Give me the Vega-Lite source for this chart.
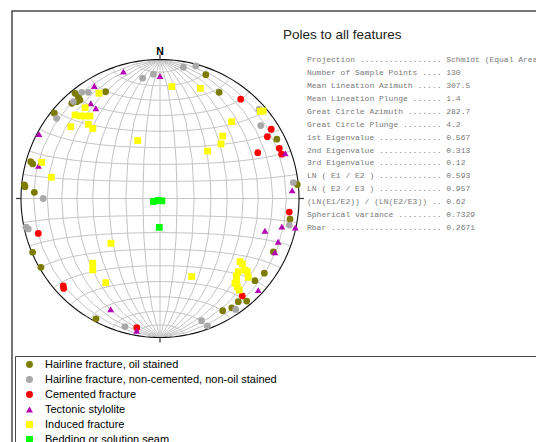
{
  "$schema": "https://vega.github.io/schema/vega-lite/v6.json",
  "width": 554,
  "height": 461,
  "autosize": {"type": "none"},
  "padding": {"left": 12, "top": 11, "right": -30, "bottom": -30},
  "background": "white",
  "view": {"stroke": "#4a4a4a", "strokeWidth": 1.5, "fill": "white"},
  "title": {
    "text": "Poles to all features",
    "subtitle": [
      "\u200b\u00a0\u00a0\u00a0\u00a0\u00a0Projection ................. Schmidt (Equal Area)",
      "\u200b\u00a0\u00a0\u00a0\u00a0\u00a0Number of Sample Points .... 130",
      "\u200b\u00a0\u00a0\u00a0\u00a0\u00a0Mean Lineation Azimuth ..... 307.5",
      "\u200b\u00a0\u00a0\u00a0\u00a0\u00a0Mean Lineation Plunge ...... 1.4",
      "\u200b\u00a0\u00a0\u00a0\u00a0\u00a0Great Circle Azimuth ....... 282.7",
      "\u200b\u00a0\u00a0\u00a0\u00a0\u00a0Great Circle Plunge ........ 4.2",
      "\u200b\u00a0\u00a0\u00a0\u00a0\u00a01st Eigenvalue ............. 0.567",
      "\u200b\u00a0\u00a0\u00a0\u00a0\u00a02nd Eigenvalue ............. 0.313",
      "\u200b\u00a0\u00a0\u00a0\u00a0\u00a03rd Eigenvalue ............. 0.12",
      "\u200b\u00a0\u00a0\u00a0\u00a0\u00a0LN ( E1 / E2 ) ............. 0.593",
      "\u200b\u00a0\u00a0\u00a0\u00a0\u00a0LN ( E2 / E3 ) ............. 0.957",
      "\u200b\u00a0\u00a0\u00a0\u00a0\u00a0(LN(E1/E2)) / (LN(E2/E3)) .. 0.62",
      "\u200b\u00a0\u00a0\u00a0\u00a0\u00a0Spherical variance ......... 0.7329",
      "\u200b\u00a0\u00a0\u00a0\u00a0\u00a0Rbar ....................... 0.2671"
    ],
    "anchor": "start",
    "frame": "group",
    "orient": "top",
    "offset": -221,
    "dx": 271,
    "font": "Liberation Sans",
    "fontSize": 13.5,
    "fontWeight": "normal",
    "color": "#222222",
    "subtitleFont": "Liberation Mono",
    "subtitleFontSize": 8,
    "subtitleColor": "#7a7a7a",
    "subtitleLineHeight": 12.9,
    "subtitlePadding": 14.5
  },
  "datasets": {
    "poles": [
      {"feature": "Hairline fracture, oil stained", "trend": 321.1, "plunge": 3.1},
      {"feature": "Hairline fracture, oil stained", "trend": 321.3, "plunge": 6.8},
      {"feature": "Hairline fracture, oil stained", "trend": 320.9, "plunge": 9.6},
      {"feature": "Hairline fracture, oil stained", "trend": 319.3, "plunge": 9.0},
      {"feature": "Hairline fracture, oil stained", "trend": 333.0, "plunge": 14.9},
      {"feature": "Hairline fracture, oil stained", "trend": 317.2, "plunge": 7.4},
      {"feature": "Hairline fracture, oil stained", "trend": 308.9, "plunge": 2.6},
      {"feature": "Hairline fracture, oil stained", "trend": 285.9, "plunge": 3.7},
      {"feature": "Hairline fracture, oil stained", "trend": 285.2, "plunge": 5.7},
      {"feature": "Hairline fracture, oil stained", "trend": 275.7, "plunge": 2.2},
      {"feature": "Hairline fracture, oil stained", "trend": 272.8, "plunge": 10.4},
      {"feature": "Hairline fracture, oil stained", "trend": 20.3, "plunge": 5.6},
      {"feature": "Hairline fracture, oil stained", "trend": 29.1, "plunge": 13.6},
      {"feature": "Hairline fracture, oil stained", "trend": 63.1, "plunge": 6.4},
      {"feature": "Hairline fracture, oil stained", "trend": 84.2, "plunge": 0.8},
      {"feature": "Hairline fracture, oil stained", "trend": 99.0, "plunge": 5.9},
      {"feature": "Hairline fracture, oil stained", "trend": 115.2, "plunge": 10.8},
      {"feature": "Hairline fracture, oil stained", "trend": 125.6, "plunge": 8.5},
      {"feature": "Hairline fracture, oil stained", "trend": 130.9, "plunge": 10.6},
      {"feature": "Hairline fracture, oil stained", "trend": 139.8, "plunge": 3.8},
      {"feature": "Hairline fracture, oil stained", "trend": 142.8, "plunge": 7.6},
      {"feature": "Hairline fracture, oil stained", "trend": 146.7, "plunge": 6.6},
      {"feature": "Hairline fracture, oil stained", "trend": 150.8, "plunge": 8.3},
      {"feature": "Hairline fracture, oil stained", "trend": 208.0, "plunge": 2.2},
      {"feature": "Hairline fracture, oil stained", "trend": 240.0, "plunge": 1.2},
      {"feature": "Hairline fracture, oil stained", "trend": 247.1, "plunge": 0.6},
      {"feature": "Hairline fracture, oil stained", "trend": 275.0, "plunge": 2.8},
      {"feature": "Hairline fracture, non-cemented, non-oil stained", "trend": 351.8, "plunge": 13.6},
      {"feature": "Hairline fracture, non-cemented, non-oil stained", "trend": 356.9, "plunge": 11.4},
      {"feature": "Hairline fracture, non-cemented, non-oil stained", "trend": 10.1, "plunge": 4.6},
      {"feature": "Hairline fracture, non-cemented, non-oil stained", "trend": 15.1, "plunge": 1.4},
      {"feature": "Hairline fracture, non-cemented, non-oil stained", "trend": 323.6, "plunge": 5.7},
      {"feature": "Hairline fracture, non-cemented, non-oil stained", "trend": 326.0, "plunge": 8.7},
      {"feature": "Hairline fracture, non-cemented, non-oil stained", "trend": 318.2, "plunge": 7.2},
      {"feature": "Hairline fracture, non-cemented, non-oil stained", "trend": 307.8, "plunge": 6.5},
      {"feature": "Hairline fracture, non-cemented, non-oil stained", "trend": 270.0, "plunge": 17.1},
      {"feature": "Hairline fracture, non-cemented, non-oil stained", "trend": 257.9, "plunge": 1.6},
      {"feature": "Hairline fracture, non-cemented, non-oil stained", "trend": 257.0, "plunge": 3.1},
      {"feature": "Hairline fracture, non-cemented, non-oil stained", "trend": 48.0, "plunge": 4.6},
      {"feature": "Hairline fracture, non-cemented, non-oil stained", "trend": 54.1, "plunge": 11.5},
      {"feature": "Hairline fracture, non-cemented, non-oil stained", "trend": 83.2, "plunge": 3.8},
      {"feature": "Hairline fracture, non-cemented, non-oil stained", "trend": 101.6, "plunge": 5.6},
      {"feature": "Hairline fracture, non-cemented, non-oil stained", "trend": 145.7, "plunge": 3.8},
      {"feature": "Hairline fracture, non-cemented, non-oil stained", "trend": 161.2, "plunge": 7.9},
      {"feature": "Hairline fracture, non-cemented, non-oil stained", "trend": 159.6, "plunge": 2.5},
      {"feature": "Hairline fracture, non-cemented, non-oil stained", "trend": 195.3, "plunge": 5.0},
      {"feature": "Cemented fracture", "trend": 39.1, "plunge": 8.8},
      {"feature": "Cemented fracture", "trend": 58.1, "plunge": 6.4},
      {"feature": "Cemented fracture", "trend": 60.1, "plunge": 11.9},
      {"feature": "Cemented fracture", "trend": 64.9, "plunge": 23.4},
      {"feature": "Cemented fracture", "trend": 67.2, "plunge": 7.7},
      {"feature": "Cemented fracture", "trend": 70.0, "plunge": 7.6},
      {"feature": "Cemented fracture", "trend": 96.0, "plunge": 7.2},
      {"feature": "Cemented fracture", "trend": 139.8, "plunge": 9.2},
      {"feature": "Cemented fracture", "trend": 254.0, "plunge": 9.8},
      {"feature": "Cemented fracture", "trend": 227.9, "plunge": 6.9},
      {"feature": "Cemented fracture", "trend": 227.0, "plunge": 5.8},
      {"feature": "Cemented fracture", "trend": 190.2, "plunge": 6.2},
      {"feature": "Tectonic stylolite", "trend": 343.9, "plunge": 5.6},
      {"feature": "Tectonic stylolite", "trend": 329.7, "plunge": 7.0},
      {"feature": "Tectonic stylolite", "trend": 324.0, "plunge": 16.4},
      {"feature": "Tectonic stylolite", "trend": 324.6, "plunge": 21.4},
      {"feature": "Tectonic stylolite", "trend": 298.0, "plunge": 1.6},
      {"feature": "Tectonic stylolite", "trend": 285.0, "plunge": 10.4},
      {"feature": "Tectonic stylolite", "trend": 0.0, "plunge": 12.9},
      {"feature": "Tectonic stylolite", "trend": 70.2, "plunge": 4.7},
      {"feature": "Tectonic stylolite", "trend": 86.5, "plunge": 5.3},
      {"feature": "Tectonic stylolite", "trend": 103.0, "plunge": 11.0},
      {"feature": "Tectonic stylolite", "trend": 102.1, "plunge": 0.5},
      {"feature": "Tectonic stylolite", "trend": 107.1, "plunge": 22.1},
      {"feature": "Tectonic stylolite", "trend": 110.1, "plunge": 10.4},
      {"feature": "Tectonic stylolite", "trend": 115.1, "plunge": 9.6},
      {"feature": "Tectonic stylolite", "trend": 133.0, "plunge": 3.8},
      {"feature": "Tectonic stylolite", "trend": 204.0, "plunge": 13.8},
      {"feature": "Tectonic stylolite", "trend": 190.0, "plunge": 3.8},
      {"feature": "Induced fracture", "trend": 329.9, "plunge": 13.5},
      {"feature": "Induced fracture", "trend": 320.5, "plunge": 16.4},
      {"feature": "Induced fracture", "trend": 314.5, "plunge": 15.4},
      {"feature": "Induced fracture", "trend": 315.9, "plunge": 18.4},
      {"feature": "Induced fracture", "trend": 317.7, "plunge": 20.9},
      {"feature": "Induced fracture", "trend": 319.7, "plunge": 23.2},
      {"feature": "Induced fracture", "trend": 308.8, "plunge": 18.8},
      {"feature": "Induced fracture", "trend": 316.0, "plunge": 26.7},
      {"feature": "Induced fracture", "trend": 316.2, "plunge": 30.8},
      {"feature": "Induced fracture", "trend": 338.9, "plunge": 53.2},
      {"feature": "Induced fracture", "trend": 287.0, "plunge": 12.0},
      {"feature": "Induced fracture", "trend": 281.1, "plunge": 21.4},
      {"feature": "Induced fracture", "trend": 6.0, "plunge": 20.2},
      {"feature": "Induced fracture", "trend": 20.1, "plunge": 16.7},
      {"feature": "Induced fracture", "trend": 49.7, "plunge": 3.0},
      {"feature": "Induced fracture", "trend": 49.0, "plunge": 5.0},
      {"feature": "Induced fracture", "trend": 43.0, "plunge": 25.4},
      {"feature": "Induced fracture", "trend": 45.1, "plunge": 36.5},
      {"feature": "Induced fracture", "trend": 48.2, "plunge": 40.8},
      {"feature": "Induced fracture", "trend": 45.1, "plunge": 50.0},
      {"feature": "Induced fracture", "trend": 227.6, "plunge": 50.5},
      {"feature": "Induced fracture", "trend": 226.1, "plunge": 33.3},
      {"feature": "Induced fracture", "trend": 223.3, "plunge": 30.1},
      {"feature": "Induced fracture", "trend": 212.8, "plunge": 28.7},
      {"feature": "Induced fracture", "trend": 157.9, "plunge": 39.2},
      {"feature": "Induced fracture", "trend": 128.3, "plunge": 27.5},
      {"feature": "Induced fracture", "trend": 128.5, "plunge": 25.3},
      {"feature": "Induced fracture", "trend": 133.1, "plunge": 24.0},
      {"feature": "Induced fracture", "trend": 130.1, "plunge": 21.2},
      {"feature": "Induced fracture", "trend": 130.0, "plunge": 19.2},
      {"feature": "Induced fracture", "trend": 131.8, "plunge": 16.0},
      {"feature": "Induced fracture", "trend": 136.7, "plunge": 20.6},
      {"feature": "Induced fracture", "trend": 138.5, "plunge": 19.7},
      {"feature": "Induced fracture", "trend": 138.8, "plunge": 16.7},
      {"feature": "Induced fracture", "trend": 139.1, "plunge": 14.0},
      {"feature": "Induced fracture", "trend": 135.4, "plunge": 22.8},
      {"feature": "Bedding or solution seam", "trend": 245.2, "plunge": 85.8},
      {"feature": "Bedding or solution seam", "trend": 225.0, "plunge": 88.4},
      {"feature": "Bedding or solution seam", "trend": 141.3, "plunge": 88.2},
      {"feature": "Bedding or solution seam", "trend": 181.4, "plunge": 73.1}
    ],
    "ticks": [
      {"type": "Feature", "properties": {"dir": "N"}, "geometry": {"type": "LineString", "coordinates": [[0, 86], [0, 90]]}},
      {"type": "Feature", "properties": {"dir": "E"}, "geometry": {"type": "LineString", "coordinates": [[86, 0], [90, 0]]}},
      {"type": "Feature", "properties": {"dir": "S"}, "geometry": {"type": "LineString", "coordinates": [[0, -86], [0, -90]]}},
      {"type": "Feature", "properties": {"dir": "W"}, "geometry": {"type": "LineString", "coordinates": [[-86, 0], [-90, 0]]}}
    ]
  },
  "layer": [
    {
      "data": {"graticule": {"step": [10, 10]}},
      "projection": {"type": "azimuthalEqualArea", "scale": 98.29, "translate": [148, 187.5], "clipAngle": 90},
      "mark": {"type": "geoshape", "filled": false, "stroke": "#c4c4c4", "strokeWidth": 1},
      "encoding": {}
    },
    {
      "data": {"sphere": true},
      "projection": {"type": "azimuthalEqualArea", "scale": 98.29, "translate": [148, 187.5], "clipAngle": 90},
      "mark": {"type": "geoshape", "filled": false, "stroke": "#111111", "strokeWidth": 1.1},
      "encoding": {}
    },
    {
      "data": {"name": "ticks"},
      "projection": {"type": "azimuthalEqualArea", "scale": 101.8, "translate": [148, 187.5]},
      "mark": {"type": "geoshape", "filled": false, "stroke": "#333333", "strokeWidth": 1.2},
      "encoding": {}
    },
    {
      "data": {"values": [{"label": "N", "lon": 0, "lat": 90}]},
      "projection": {"type": "azimuthalEqualArea", "scale": 101.8, "translate": [148, 187.5]},
      "mark": {"type": "text", "font": "Liberation Sans", "fontSize": 10.5, "fontWeight": "bold", "align": "center", "baseline": "alphabetic", "color": "black"},
      "encoding": {
        "longitude": {"field": "lon", "type": "quantitative"},
        "latitude": {"field": "lat", "type": "quantitative"},
        "text": {"field": "label"}
      }
    },
    {
      "data": {"name": "poles"},
      "projection": {"type": "azimuthalEqualArea", "scale": 98.29, "translate": [148, 187.5], "rotate": [0, -90, 0], "reflectY": true},
      "mark": {"type": "point", "filled": true, "size": 46, "opacity": 1, "strokeWidth": 0},
      "encoding": {
        "longitude": {"field": "trend", "type": "quantitative"},
        "latitude": {"field": "plunge", "type": "quantitative"},
        "color": {
          "field": "feature",
          "type": "nominal",
          "scale": {
            "domain": ["Hairline fracture, oil stained", "Hairline fracture, non-cemented, non-oil stained", "Cemented fracture", "Tectonic stylolite", "Induced fracture", "Bedding or solution seam"],
            "range": ["#7c7c00", "#a8a8a8", "#ff0000", "#b400b4", "#ffff00", "#00ff00"]
          },
          "legend": {
            "orient": "none",
            "legendX": 3,
            "legendY": 345,
            "title": "\u200b\u00a0\u00a0\u00a0\u00a0\u00a0\u00a0\u00a0\u00a0\u00a0\u00a0\u00a0\u00a0\u00a0\u00a0\u00a0\u00a0\u00a0\u00a0\u00a0\u00a0\u00a0\u00a0\u00a0\u00a0\u00a0\u00a0\u00a0\u00a0\u00a0\u00a0\u00a0\u00a0\u00a0\u00a0\u00a0\u00a0\u00a0\u00a0\u00a0\u00a0\u00a0\u00a0\u00a0\u00a0\u00a0\u00a0\u00a0\u00a0\u00a0\u00a0\u00a0\u00a0\u00a0\u00a0\u00a0\u200b",
            "titleOrient": "right",
            "titleFontSize": 20,
            "titleLimit": 1000,
            "strokeColor": "#4a4a4a",
            "padding": 3,
            "symbolOffset": 6,
            "labelOffset": 10,
            "rowPadding": 3.0,
            "labelFont": "Liberation Sans",
            "labelFontSize": 11,
            "labelColor": "black",
            "labelLimit": 400,
            "symbolSize": 48,
            "symbolStrokeWidth": 0,
            "encode": {
              "symbols": {
                "shape": {"signal": "datum.value === 'Tectonic stylolite' ? 'triangle-left' : (datum.value === 'Induced fracture' || datum.value === 'Bedding or solution seam') ? 'square' : 'circle'"}
              }
            }
          }
        },
        "shape": {
          "field": "feature",
          "type": "nominal",
          "scale": {
            "domain": ["Hairline fracture, oil stained", "Hairline fracture, non-cemented, non-oil stained", "Cemented fracture", "Tectonic stylolite", "Induced fracture", "Bedding or solution seam"],
            "range": ["circle", "circle", "circle", "triangle-up", "square", "square"]
          }
        }
      }
    }
  ]
}
